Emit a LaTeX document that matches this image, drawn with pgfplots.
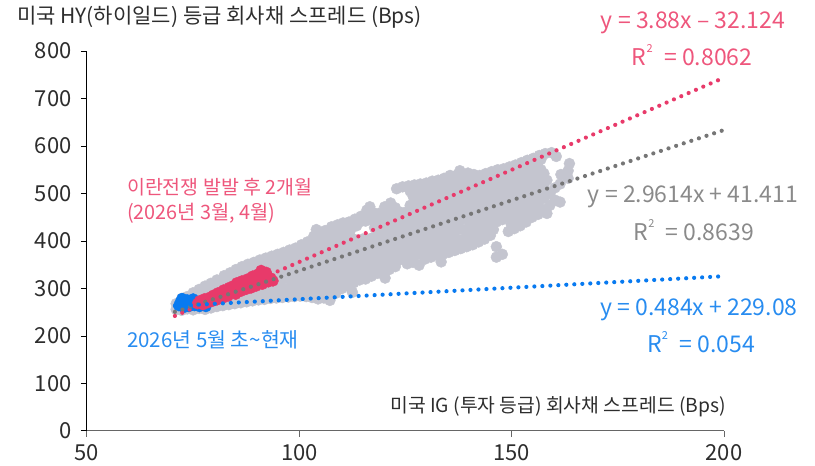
\documentclass[border=0pt]{standalone}
\usepackage{fontspec}
\setmainfont{Noto Sans CJK KR}
\usepackage{pgfplots}
\pgfplotsset{compat=1.18}
\definecolor{cgray}{RGB}{196,197,207}
\definecolor{cpink}{RGB}{232,58,106}
\definecolor{cblue}{RGB}{8,122,240}
\definecolor{tpink}{RGB}{238,86,124}
\definecolor{tblue}{RGB}{40,140,240}
\definecolor{tgray}{RGB}{138,138,138}
\definecolor{lgray}{RGB}{118,118,118}
\definecolor{txt}{RGB}{45,45,45}
\newcommand\tck{\fontsize{22}{26}\selectfont}
\newcommand\eq{\fontsize{23}{27}\selectfont}
\newcommand\rsq{R\raisebox{0.55em}{\fontsize{11}{11}\selectfont 2}\enspace}

\begin{document}
\begin{tikzpicture}
\begin{axis}[
  scale only axis, width=637pt, height=380pt,
  xmin=50, xmax=200, ymin=0, ymax=800,
  axis x line*=bottom, axis y line*=left,
  x axis line style={draw=black!60, line width=1pt},
  y axis line style={draw=black, line width=1pt},
  xtick={50,100,150,200}, ytick={0,100,...,800},
  tick align=outside, major tick length=6pt,
  xtick style={draw=black!60, line width=1pt},
  ytick style={draw=black, line width=1pt},
  tick label style={font=\tck, text=txt},
  yticklabel style={xshift=-6pt},
  xticklabel style={yshift=-4pt},
  /pgf/number format/assume math mode=true,
  clip=false, clip marker paths=true,
]
% gray: all other months
\addplot[only marks, mark=*, mark size=5.5pt, color=cgray, mark options={draw=none, fill=cgray}] coordinates {
(71.0,256) (71.0,268)
(72.3,254) (72.3,266) (72.3,279)
(73.6,257) (73.6,270) (73.6,283)
(75.0,255) (75.0,267) (75.0,280) (75.0,291)
(76.4,258) (76.4,271) (76.4,284) (76.4,298)
(77.8,256) (77.8,269) (77.8,282) (77.8,295) (77.8,305)
(79.2,259) (79.2,272) (79.2,286) (79.2,300) (79.2,311)
(80.6,262) (80.6,275) (80.6,289) (80.6,303) (80.6,318)
(82.0,264) (82.0,278) (82.0,292) (82.0,306) (82.0,320) (82.3,327)
(83.4,266) (83.4,280) (83.4,295) (83.4,309) (83.4,323) (83.7,333)
(84.8,268) (84.8,283) (84.8,298) (84.8,312) (84.8,327) (85.1,340)
(86.2,270) (86.2,286) (86.2,301) (86.2,316) (86.2,331) (86.5,346)
(87.6,272) (87.6,288) (87.6,304) (87.6,320) (87.6,336) (87.9,351)
(89.0,274) (89.0,290) (89.0,307) (89.0,323) (89.0,339) (89.3,355)
(90.4,276) (90.4,293) (90.4,310) (90.4,327) (90.4,343) (90.7,360)
(91.8,277) (91.8,295) (91.8,312) (91.8,330) (91.8,347) (92.1,364)
(93.2,279) (93.2,297) (93.2,315) (93.2,333) (93.2,351) (93.5,368)
(94.6,280) (94.6,298) (94.6,317) (94.6,336) (94.6,354) (94.9,372)
(96.0,281) (96.0,300) (96.0,319) (96.0,338) (96.0,357) (96.3,376)
(97.4,282) (97.4,301) (97.4,321) (97.4,341) (97.4,361) (97.7,381)
(98.8,283) (98.8,303) (98.8,323) (98.8,344) (98.8,364) (99.1,385)
(100.2,284) (100.2,305) (100.2,326) (100.2,347) (100.2,368) (100.5,392)
(101.6,283) (101.6,305) (101.6,328) (101.6,350) (101.6,372) (101.9,398)
(103.0,281) (103.0,304) (103.0,328) (103.0,352) (103.0,376) (103.0,400) (103.4,410)
(104.4,278) (104.4,302) (104.4,327) (104.4,352) (104.4,378) (104.4,404) (104.8,416)
(105.8,280) (105.8,305) (105.8,331) (105.8,356) (105.8,382) (105.8,408) (106.1,422)
(107.2,275) (107.2,298) (107.2,325) (107.2,352) (107.2,380) (107.2,405) (107.6,430)
(108.6,290) (108.6,316) (108.6,343) (108.6,370) (108.6,397) (108.6,424) (109.0,434)
(110.0,300) (110.0,325) (110.0,352) (110.0,378) (110.0,404) (110.0,430) (110.3,438)
(111.4,305) (111.4,332) (111.4,358) (111.4,385) (111.4,408) (111.7,440)
(112.8,312) (112.8,338) (112.8,365) (112.8,390) (112.8,404) (113.1,446)
(114.2,318) (114.2,345) (114.2,372) (114.2,398) (114.2,440) (114.5,452)
(115.6,320) (115.6,348) (115.6,376) (115.6,400) (115.6,442) (115.9,465)
(117.0,326) (117.0,352) (117.0,380) (117.0,406) (117.0,445) (117.3,460)
(118.4,332) (118.4,358) (118.4,385) (118.4,412) (118.4,438) (118.7,458)
(119.8,336) (119.8,362) (119.8,390) (119.8,418) (119.8,446) (120.1,472)
(121.2,340) (121.2,368) (121.2,396) (121.2,424) (121.2,452) (121.5,480)
(122.6,346) (122.6,372) (122.6,400) (122.6,428) (122.6,456) (122.6,470) (122.9,510)
(124.0,366) (124.0,376) (124.0,404) (124.0,432) (124.0,460) (124.3,514)
(125.4,352) (125.4,380) (125.4,408) (125.4,436) (125.4,462) (125.7,516)
(126.8,355) (126.8,384) (126.8,412) (126.8,440) (126.8,468) (126.8,494) (127.1,518)
(128.2,349) (128.2,388) (128.2,416) (128.2,444) (128.2,472) (128.2,498) (128.5,520)
(129.6,362) (129.6,392) (129.6,420) (129.6,448) (129.6,476) (129.6,502) (129.9,522)
(131.0,366) (131.0,396) (131.0,424) (131.0,452) (131.0,480) (131.0,506) (131.3,526)
(132.4,370) (132.4,398) (132.4,428) (132.4,456) (132.4,484) (132.4,510) (132.7,528)
(133.8,372) (133.8,402) (133.8,432) (133.8,460) (133.8,488) (133.8,514) (134.1,532)
(135.2,376) (135.2,406) (135.2,436) (135.2,464) (135.2,492) (135.2,518) (135.5,538)
(136.6,380) (136.6,410) (136.6,440) (136.6,468) (136.6,496) (136.6,522) (136.9,538)
(138.0,384) (138.0,402) (138.0,444) (138.0,472) (138.0,500) (138.0,526) (138.3,540)
(139.4,388) (139.4,418) (139.4,448) (139.4,476) (139.4,504) (139.4,530) (139.7,543)
(140.8,392) (140.8,422) (140.8,452) (140.8,480) (140.8,508) (140.8,534) (141.1,540)
(142.2,398) (142.2,426) (142.2,456) (142.2,484) (142.2,512) (142.5,538)
(143.6,404) (143.6,430) (143.6,460) (143.6,488) (143.6,516) (143.9,542)
(145.0,412) (145.0,436) (145.0,464) (145.0,492) (145.0,520) (145.3,546)
(146.4,366) (146.4,388) (146.4,440) (146.4,468) (146.4,496) (146.4,524) (146.7,550)
(147.8,372) (147.8,445) (147.8,472) (147.8,500) (147.8,528) (148.1,552)
(149.2,420) (149.2,450) (149.2,478) (149.2,506) (149.2,534) (149.5,556)
(150.6,426) (150.6,455) (150.6,484) (150.6,512) (150.6,540) (150.9,560)
(152.0,432) (152.0,460) (152.0,490) (152.0,518) (152.0,546) (152.3,565)
(153.4,440) (153.4,466) (153.4,496) (153.4,524) (153.4,552) (153.7,570)
(154.8,450) (154.8,472) (154.8,502) (154.8,530) (154.8,558) (155.1,574)
(156.2,456) (156.2,480) (156.2,508) (156.2,536) (156.2,564) (156.5,580)
(157.6,465) (157.6,490) (157.6,516) (157.6,542) (157.9,584)
(158.3,458) (158.3,528)
(159.0,475) (159.0,500) (159.4,586)
(160.2,486) (160.2,512) (160.5,578)
(161.4,482) (161.4,520) (161.6,540)
(163.3,532) (163.3,548) (163.6,563)
% staggered points between the rows above
(99.5,293) (99.5,313) (99.5,333) (99.5,354) (99.5,374)
(100.9,294) (100.9,315) (100.9,336) (100.9,357) (100.9,380)
(102.3,294) (102.3,316) (102.3,339) (102.3,361) (102.3,385)
(103.7,292) (103.7,316) (103.7,340) (103.7,364) (103.7,388)
(105.1,290) (105.1,314) (105.1,340) (105.1,365) (105.1,391)
(106.5,292) (106.5,318) (106.5,343) (106.5,369) (106.5,395) (106.5,416)
(107.9,287) (107.9,311) (107.9,338) (107.9,366) (107.9,392) (107.9,418)
(109.3,303) (109.3,330) (109.3,356) (109.3,384) (109.3,410)
(110.7,312) (110.7,338) (110.7,365) (110.7,391) (110.7,417)
(112.1,318) (112.1,345) (112.1,371) (112.1,396) (112.1,424)
(113.5,325) (113.5,351) (113.5,377) (113.5,432)
(114.9,331) (114.9,358) (114.9,385) (114.9,404)
(116.3,334) (116.3,362) (116.3,388) (116.3,452)
(117.7,339) (117.7,366) (117.7,393) (117.7,428)
(119.1,345) (119.1,371) (119.1,398) (119.1,425) (119.1,450)
(120.5,349) (120.5,376) (120.5,404) (120.5,432) (120.5,459)
(121.9,354) (121.9,382) (121.9,410) (121.9,438) (121.9,466)
(123.3,359) (123.3,386) (123.3,414) (123.3,442)
(124.7,390) (124.7,418) (124.7,446)
(126.1,366) (126.1,394) (126.1,422) (126.1,449) (126.1,475) (126.1,505)
(127.5,370) (127.5,398) (127.5,426) (127.5,454) (127.5,481) (127.5,506)
(128.9,372) (128.9,402) (128.9,430) (128.9,458) (128.9,485) (128.9,509)
(130.3,377) (130.3,406) (130.3,434) (130.3,462) (130.3,489) (130.3,512)
(131.7,381) (131.7,410) (131.7,438) (131.7,466) (131.7,493) (131.7,516)
(133.1,384) (133.1,413) (133.1,442) (133.1,470) (133.1,497) (133.1,519)
(134.5,387) (134.5,417) (134.5,446) (134.5,474) (134.5,501) (134.5,523)
(135.9,391) (135.9,421) (135.9,450) (135.9,478) (135.9,505) (135.9,528)
(137.3,395) (137.3,425) (137.3,454) (137.3,482) (137.3,509) (137.3,530)
(138.7,393) (138.7,423) (138.7,458) (138.7,486) (138.7,513) (138.7,533)
(140.1,403) (140.1,433) (140.1,462) (140.1,490) (140.1,517) (140.1,536)
(141.5,407) (141.5,437) (141.5,466) (141.5,494) (141.5,521)
(142.9,412) (142.9,441) (142.9,470) (142.9,498) (142.9,525)
(144.3,417) (144.3,445) (144.3,474) (144.3,502) (144.3,529)
(145.7,424) (145.7,450) (145.7,478) (145.7,506) (145.7,533)
(147.1,454) (147.1,482) (147.1,510) (147.1,537)
(148.5,458) (148.5,486) (148.5,514) (148.5,540)
(149.9,435) (149.9,464) (149.9,492) (149.9,520) (149.9,545)
(151.3,440) (151.3,470) (151.3,498) (151.3,526) (151.3,550)
(152.7,446) (152.7,475) (152.7,504) (152.7,532) (152.7,556)
(154.1,453) (154.1,481) (154.1,510) (154.1,538) (154.1,561)
(155.5,461) (155.5,487) (155.5,516) (155.5,544) (155.5,566)
(156.9,468) (156.9,494) (156.9,522) (156.9,550) (156.9,572)
(158.3,503)
% a few scattered points on the edges
(112.5,292) (120.2,322) (133.4,356) (137.8,548) (116.6,472) (104.0,424)
};
% blue: May 2026 to date
\addplot[only marks, mark=*, mark size=5.5pt, color=cblue, mark options={draw=none, fill=cblue}] coordinates {
(71.6,264) (72.0,272) (72.4,279) (72.8,260) (73.2,268) (73.6,276) (74.0,262)
(74.5,270) (75.0,278) (75.3,264) (75.8,270) (76.5,262) (77.2,265) (78.0,262)
};
% pink: March-April 2026
\addplot[only marks, mark=*, mark size=5.5pt, color=cpink, mark options={draw=none, fill=cpink}] coordinates {
(76.0,268) (76.5,274) (77.3,266) (77.6,278) (78.4,270) (78.8,281) (79.5,273) (79.8,286)
(80.6,276) (80.9,291) (81.2,284) (82.0,280) (82.2,297) (82.8,290) (83.2,284) (83.5,302)
(84.1,292) (84.5,306) (85.0,288) (85.3,312) (85.7,299) (86.2,294) (86.5,316) (87.0,306)
(87.4,298) (87.8,320) (88.2,310) (88.6,301) (89.0,326) (89.3,314) (89.8,305) (90.2,330)
(90.6,318) (91.0,338) (91.3,309) (91.8,324) (92.2,334) (92.7,314) (93.3,322) (93.8,316)
};
% trend lines
\addplot[cpink, line width=4.2pt, line cap=round, dash pattern=on 0pt off 8pt] coordinates {(70.7,242.2) (200,743.9)};
\addplot[lgray, line width=4.2pt, line cap=round, dash pattern=on 0pt off 8pt] coordinates {(70.7,250.8) (200,633.7)};
\addplot[cblue, line width=4.2pt, line cap=round, dash pattern=on 0pt off 8pt] coordinates {(70.7,263.3) (200,325.9)};

\node[anchor=west, inner sep=0, font=\fontsize{21}{25}\selectfont, text=txt] at (axis cs:33.5,871.6) {미국 HY(하이일드) 등급 회사채 스프레드 (Bps)};
\node[anchor=east, inner sep=0, font=\fontsize{19.3}{23}\selectfont, text=txt] at (axis cs:200.5,50.5) {미국 IG (투자 등급) 회사채 스프레드 (Bps)};

\node[anchor=west, inner sep=0, font=\fontsize{19.5}{23}\selectfont, text=tpink] at (axis cs:59.4,513.7) {이란전쟁 발발 후 2개월};
\node[anchor=west, inner sep=0, font=\fontsize{19.8}{23}\selectfont, text=tpink] at (axis cs:59.4,458.9) {(2026년 3월, 4월)};
\node[anchor=west, inner sep=0, font=\fontsize{20.5}{24}\selectfont, text=tblue] at (axis cs:59.4,191.6) {2026년 5월 초\textasciitilde 현재};

\node[inner sep=0, font=\eq, text=tpink] at (axis cs:192.7,858.9) {y = 3.88x -- 32.124};
\node[inner sep=0, font=\eq, text=tpink] at (axis cs:192.5,791.6) {\rsq= 0.8062};
\node[inner sep=0, font=\eq, text=tgray] at (axis cs:192.7,492.6) {y = 2.9614x + 41.411};
\node[inner sep=0, font=\eq, text=tgray] at (axis cs:192.9,423.2) {\rsq= 0.8639};
\node[inner sep=0, font=\eq, text=tblue] at (axis cs:194.1,254.7) {y = 0.484x + 229.08};
\node[inner sep=0, font=\eq, text=tblue] at (axis cs:194.6,187.4) {\rsq= 0.054};

\coordinate (O) at (axis cs:50,0);
\end{axis}
\pgfresetboundingbox
\path[use as bounding box] ([shift={(-87pt,-35pt)}]O) rectangle ([shift={(728pt,431pt)}]O);
\end{tikzpicture}
\end{document}
